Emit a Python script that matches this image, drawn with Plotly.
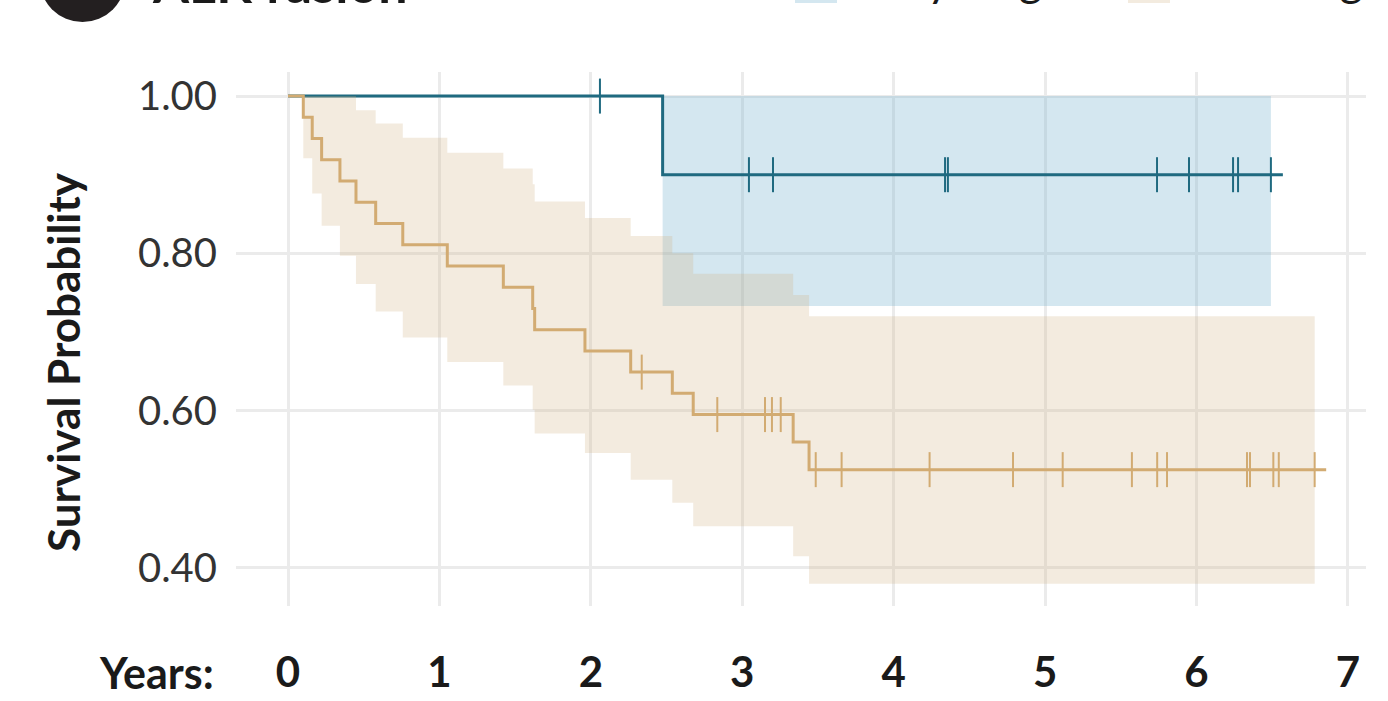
import plotly.graph_objects as go

# ---- Kaplan-Meier estimates (time in years) ----
early_event_times = [2.474]
early_surv = [0.900]
early_censor_times = [2.06, 3.044, 3.203, 4.339, 4.358, 5.739, 5.950, 6.241, 6.274, 6.491]
early_end_time = 6.57
early_ci_times = [2.474, 6.491]
early_ci_upper = [1.000, 1.000]
early_ci_lower = [0.733, 0.733]

late_event_times = [0.101, 0.160, 0.222, 0.343, 0.449, 0.579, 0.758, 1.052, 1.422,
                    1.616, 1.629, 1.961, 2.263, 2.538, 2.676, 3.336, 3.441]
late_surv = [0.973, 0.946, 0.919, 0.892, 0.865, 0.838, 0.811, 0.784, 0.757,
             0.730, 0.703, 0.676, 0.649, 0.622, 0.595, 0.560, 0.525]
late_ci_upper = [1.000, 1.000, 1.000, 1.000, 0.982, 0.965, 0.947, 0.928, 0.908,
                 0.888, 0.866, 0.845, 0.822, 0.800, 0.774, 0.747, 0.720]
late_ci_lower = [0.921, 0.876, 0.835, 0.797, 0.761, 0.726, 0.693, 0.662, 0.632,
                 0.601, 0.571, 0.546, 0.512, 0.483, 0.453, 0.415, 0.380]
late_censor_times = [2.336, 2.835, 3.150, 3.196, 3.254, 3.485, 3.656, 4.237, 4.788,
                     5.116, 5.573, 5.740, 5.805, 6.333, 6.353, 6.507, 6.543, 6.780]
late_ci_end_time = 6.780
late_end_time = 6.856

x_ticks = [0, 1, 2, 3, 4, 5, 6, 7]
y_ticks = [0.40, 0.60, 0.80, 1.00]
y_tick_labels = ["0.40", "0.60", "0.80", "1.00"]

groups = ["Early stage", "Late stage"]

EARLY_LINE = "#1f6a80"
EARLY_FILL = "rgba(112,175,205,0.30)"
EARLY_SWATCH = "#d4e7f0"
LATE_LINE = "#d2ab72"
LATE_FILL = "rgba(207,175,127,0.25)"
LATE_SWATCH = "#f3ebdf"
FONT = "Lato"


def surv_at(t, times, surv):
    s = 1.0
    for ti, si in zip(times, surv):
        if ti <= t:
            s = si
    return s


def band(times, upper, lower, end_time, fill):
    xs = list(times) + [end_time]
    lo = list(lower) + [lower[-1]]
    up = list(upper) + [upper[-1]]
    return [
        go.Scatter(x=xs, y=lo, mode="lines", line=dict(width=0, shape="hv"),
                   hoverinfo="skip", showlegend=False),
        go.Scatter(x=xs, y=up, mode="lines", line=dict(width=0, shape="hv"),
                   fill="tonexty", fillcolor=fill, hoverinfo="skip", showlegend=False),
    ]


def curve(times, surv, end_time, color, name):
    xs = [0.0] + list(times) + [end_time]
    ys = [1.0] + list(surv) + [surv[-1]]
    return go.Scatter(x=xs, y=ys, mode="lines", name=name,
                      line=dict(color=color, width=3, shape="hv"), showlegend=False)


def censors(ctimes, times, surv, color):
    return go.Scatter(
        x=ctimes, y=[surv_at(t, times, surv) for t in ctimes], mode="markers",
        marker=dict(symbol="line-ns", size=25, line=dict(color=color, width=2)),
        showlegend=False, hoverinfo="skip")


fig = go.Figure()
for tr in band(early_ci_times, early_ci_upper, early_ci_lower, early_ci_times[-1], EARLY_FILL):
    fig.add_trace(tr)
fig.add_trace(curve(early_event_times, early_surv, early_end_time, EARLY_LINE, groups[0]))
fig.add_trace(censors(early_censor_times, early_event_times, early_surv, EARLY_LINE))
for tr in band(late_event_times, late_ci_upper, late_ci_lower, late_ci_end_time, LATE_FILL):
    fig.add_trace(tr)
fig.add_trace(curve(late_event_times, late_surv, late_end_time, LATE_LINE, groups[1]))
fig.add_trace(censors(late_censor_times, late_event_times, late_surv, LATE_LINE))

W, H = 1388, 701
ML, MR, MT, MB = 236, 22, 72, 95
PW, PH = W - ML - MR, H - MT - MB


def px(x):
    return (x - ML) / PW


def py(y):
    return (H - MB - y) / PH


fig.update_layout(
    width=W, height=H,
    margin=dict(l=ML, r=MR, t=MT, b=MB, pad=0, autoexpand=False),
    paper_bgcolor="white", plot_bgcolor="white",
    font=dict(family=FONT, color="#333333"),
    xaxis=dict(
        range=[-0.3434, 7.119], tickvals=x_ticks, ticktext=[str(v) for v in x_ticks],
        showgrid=True, gridcolor="#ebebeb", gridwidth=3, zeroline=False, showline=False,
        ticks="", tickfont=dict(family=FONT, size=42, color="#1a1a1a", weight="bold"),
        ticklabelstandoff=38, automargin=False,
    ),
    yaxis=dict(
        range=[0.3516, 1.0306], tickvals=y_ticks, ticktext=y_tick_labels,
        showgrid=True, gridcolor="#ebebeb", gridwidth=3, zeroline=False, showline=False,
        ticks="", tickfont=dict(family=FONT, size=40, color="#333333"),
        ticklabelstandoff=18, automargin=False,
    ),
    shapes=[
        dict(type="circle", xref="paper", yref="paper",
             x0=px(39.5), x1=px(125.5), y0=py(22), y1=py(-64),
             fillcolor="#231f20", line=dict(width=0)),
        dict(type="rect", xref="paper", yref="paper",
             x0=px(795), x1=px(837), y0=py(3), y1=py(-39),
             fillcolor=EARLY_SWATCH, line=dict(width=0)),
        dict(type="rect", xref="paper", yref="paper",
             x0=px(1128), x1=px(1170), y0=py(3), y1=py(-39),
             fillcolor=LATE_SWATCH, line=dict(width=0)),
    ],
    annotations=[
        dict(text="Survival Probability", xref="paper", yref="paper",
             x=px(63), y=py(362), xanchor="center", yanchor="middle",
             textangle=-90, showarrow=False,
             font=dict(family=FONT, size=44, color="#1a1a1a", weight="bold")),
        dict(text="ALK fusion", xref="paper", yref="paper", x=px(150), y=py(-17),
             xanchor="left", yanchor="middle", showarrow=False,
             font=dict(family=FONT, size=52, color="#1a1a1a", weight="bold")),
        dict(text=groups[0], xref="paper", yref="paper", x=px(850), y=py(-21),
             xanchor="left", yanchor="middle", showarrow=False,
             font=dict(family=FONT, size=45, color="#1a1a1a")),
        dict(text=groups[1], xref="paper", yref="paper", x=px(1183), y=py(-21),
             xanchor="left", yanchor="middle", showarrow=False,
             font=dict(family=FONT, size=45, color="#1a1a1a")),
        dict(text="Years:", xref="paper", yref="paper", x=px(216), y=py(672),
             xanchor="right", yanchor="middle", showarrow=False,
             font=dict(family=FONT, size=43, color="#1a1a1a", weight="bold")),
    ],
)

fig.write_html("out.html")
